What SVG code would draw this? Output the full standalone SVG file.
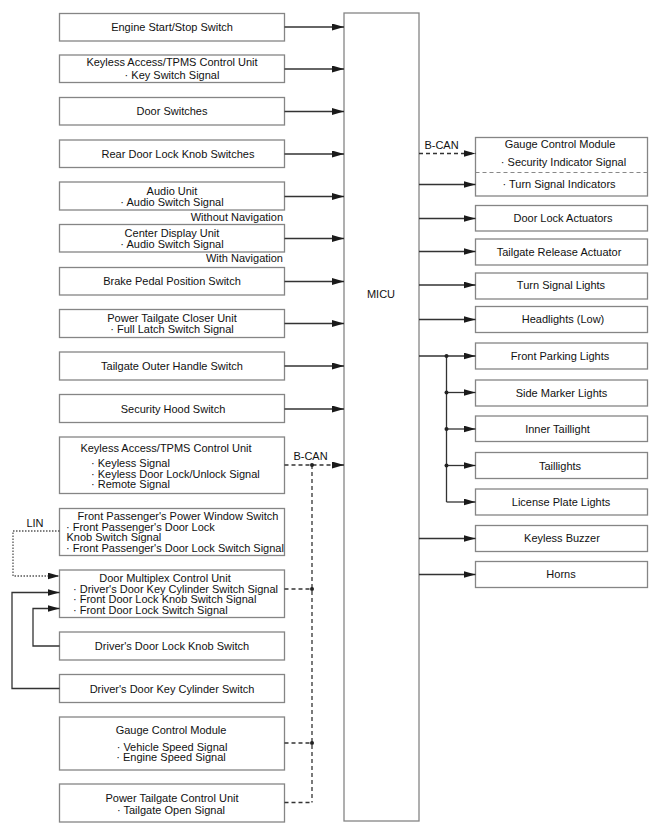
<svg xmlns="http://www.w3.org/2000/svg" width="658" height="833" viewBox="0 0 658 833">
<style>
.box{fill:#fff;stroke:#858585;stroke-width:1.3}
.t{font-family:"Liberation Sans",Arial,sans-serif;font-size:11px;fill:#111}
.c{text-anchor:middle}
.r{text-anchor:end}
.ln{fill:none;stroke:#333;stroke-width:1.3}
.ds{fill:none;stroke:#333;stroke-width:1.3;stroke-dasharray:4,3}
.dt{fill:none;stroke:#555;stroke-width:1.3;stroke-dasharray:1.5,1.5}
.dv{fill:none;stroke:#888;stroke-width:1.2;stroke-dasharray:4,3}
.dot{fill:#222}
</style>
<defs>
<marker id="ah" markerUnits="userSpaceOnUse" markerWidth="12" markerHeight="8" refX="12" refY="3.5" orient="auto">
<path d="M0,0 L12,3.5 L0,7 z" fill="#1a1a1a"/>
</marker>
</defs>

<g id="micu"><rect class="box" x="344" y="13" width="75" height="808"/><text class="t c" x="381" y="298">MICU</text></g>

<g id="n1"><rect class="box" x="59.5" y="13.5" width="225" height="27.5"/><text class="t c" x="172" y="31">Engine Start/Stop Switch</text></g>
<g id="n2"><rect class="box" x="59.5" y="55" width="225" height="27.5"/><text class="t c" x="172" y="66">Keyless Access/TPMS Control Unit</text><text class="t c" x="172" y="79">· Key Switch Signal</text></g>
<g id="n3"><rect class="box" x="59.5" y="97.5" width="225" height="27.5"/><text class="t c" x="172" y="115">Door Switches</text></g>
<g id="n4"><rect class="box" x="59.5" y="140" width="225" height="27.5"/><text class="t c" x="178" y="158">Rear Door Lock Knob Switches</text></g>
<g id="n5"><rect class="box" x="59.5" y="182" width="225" height="28"/><text class="t c" x="172" y="195">Audio Unit</text><text class="t c" x="172" y="206">· Audio Switch Signal</text><text class="t r" x="283" y="220.5">Without Navigation</text></g>
<g id="n6"><rect class="box" x="59.5" y="224.5" width="225" height="27.5"/><text class="t c" x="172" y="237">Center Display Unit</text><text class="t c" x="172" y="248">· Audio Switch Signal</text><text class="t r" x="283" y="262">With Navigation</text></g>
<g id="n7"><rect class="box" x="59.5" y="267.5" width="225" height="27.5"/><text class="t c" x="172" y="285">Brake Pedal Position Switch</text></g>
<g id="n8"><rect class="box" x="59.5" y="309.5" width="225" height="28"/><text class="t c" x="172" y="322">Power Tailgate Closer Unit</text><text class="t c" x="172" y="333">· Full Latch Switch Signal</text></g>
<g id="n9"><rect class="box" x="59.5" y="352" width="225" height="28"/><text class="t c" x="172" y="370">Tailgate Outer Handle Switch</text></g>
<g id="n10"><rect class="box" x="59.5" y="394.5" width="225" height="28"/><text class="t c" x="173" y="412.5">Security Hood Switch</text></g>
<g id="n11"><rect class="box" x="59.5" y="437" width="225" height="56.5"/><text class="t c" x="166" y="452">Keyless Access/TPMS Control Unit</text><text class="t" x="91" y="467">· Keyless Signal</text><text class="t" x="91" y="478">· Keyless Door Lock/Unlock Signal</text><text class="t" x="91" y="488">· Remote Signal</text></g>
<g id="n12"><rect class="box" x="59.5" y="508.5" width="225" height="47"/><text class="t c" x="178" y="520">Front Passenger's Power Window Switch</text><text class="t" x="66" y="531">· Front Passenger's Door Lock</text><text class="t" x="66.5" y="541">Knob Switch Signal</text><text class="t" x="66" y="552">· Front Passenger's Door Lock Switch Signal</text></g>
<g id="n13"><rect class="box" x="59.5" y="570" width="225" height="47.5"/><text class="t c" x="165" y="581.5">Door Multiplex Control Unit</text><text class="t" x="73" y="593">· Driver's Door Key Cylinder Switch Signal</text><text class="t" x="73" y="603">· Front Door Lock Knob Switch Signal</text><text class="t" x="73" y="614">· Front Door Lock Switch Signal</text></g>
<g id="n14"><rect class="box" x="59.5" y="632" width="225" height="28"/><text class="t c" x="172" y="650">Driver's Door Lock Knob Switch</text></g>
<g id="n15"><rect class="box" x="59.5" y="674.5" width="225" height="28"/><text class="t c" x="172" y="692.5">Driver's Door Key Cylinder Switch</text></g>
<g id="n16"><rect class="box" x="59.5" y="717" width="225" height="53"/><text class="t c" x="171" y="734">Gauge Control Module</text><text class="t c" x="172" y="751">· Vehicle Speed Signal</text><text class="t c" x="171" y="761">· Engine Speed Signal</text></g>
<g id="n17"><rect class="box" x="59.5" y="784" width="225" height="38"/><text class="t c" x="172" y="802">Power Tailgate Control Unit</text><text class="t c" x="171" y="814">· Tailgate Open Signal</text></g>

<g id="r1"><rect class="box" x="475.5" y="137.5" width="172" height="58.5"/><line class="dv" x1="475.5" y1="172.5" x2="647.5" y2="172.5"/><text class="t c" x="560" y="148">Gauge Control Module</text><text class="t c" x="563.5" y="165.5">· Security Indicator Signal</text><text class="t c" x="559" y="188">· Turn Signal Indicators</text></g>
<g id="r2"><rect class="box" x="475.5" y="205.5" width="172" height="25.5"/><text class="t c" x="563" y="222">Door Lock Actuators</text></g>
<g id="r3"><rect class="box" x="475.5" y="239" width="172" height="26"/><text class="t c" x="559" y="255.5">Tailgate Release Actuator</text></g>
<g id="r4"><rect class="box" x="475.5" y="273" width="172" height="26"/><text class="t c" x="561" y="289">Turn Signal Lights</text></g>
<g id="r5"><rect class="box" x="475.5" y="306.5" width="172" height="26"/><text class="t c" x="563" y="323">Headlights (Low)</text></g>
<g id="r6"><rect class="box" x="475.5" y="343" width="172" height="26"/><text class="t c" x="560" y="360">Front Parking Lights</text></g>
<g id="r7"><rect class="box" x="475.5" y="380" width="172" height="26"/><text class="t c" x="561.5" y="396.5">Side Marker Lights</text></g>
<g id="r8"><rect class="box" x="475.5" y="416" width="172" height="25.5"/><text class="t c" x="557.5" y="432.5">Inner Taillight</text></g>
<g id="r9"><rect class="box" x="475.5" y="452.5" width="172" height="26"/><text class="t c" x="560" y="469.5">Taillights</text></g>
<g id="r10"><rect class="box" x="475.5" y="489" width="172" height="26"/><text class="t c" x="561" y="505.5">License Plate Lights</text></g>
<g id="r11"><rect class="box" x="475.5" y="525.5" width="172" height="26"/><text class="t c" x="562" y="542">Keyless Buzzer</text></g>
<g id="r12"><rect class="box" x="475.5" y="561.5" width="172" height="26"/><text class="t c" x="561" y="578">Horns</text></g>

<g id="connectors">
<path class="ln" marker-end="url(#ah)" d="M284.5,27 H344"/>
<path class="ln" marker-end="url(#ah)" d="M284.5,69 H344"/>
<path class="ln" marker-end="url(#ah)" d="M284.5,111.5 H344"/>
<path class="ln" marker-end="url(#ah)" d="M284.5,154 H344"/>
<path class="ln" marker-end="url(#ah)" d="M284.5,196.5 H344"/>
<path class="ln" marker-end="url(#ah)" d="M284.5,238.5 H344"/>
<path class="ln" marker-end="url(#ah)" d="M284.5,281.5 H344"/>
<path class="ln" marker-end="url(#ah)" d="M284.5,323.5 H344"/>
<path class="ln" marker-end="url(#ah)" d="M284.5,366 H344"/>
<path class="ln" marker-end="url(#ah)" d="M284.5,409 H344"/>
<path class="ds" marker-end="url(#ah)" d="M284.5,465 H344"/>
<path class="ds" d="M312,465 V802.5"/>
<path class="ds" d="M284.5,589 H312"/>
<path class="ds" d="M284.5,743 H312"/>
<path class="ds" d="M284.5,802.5 H312"/>
<circle class="dot" cx="312" cy="465" r="2"/>
<circle class="dot" cx="312" cy="589" r="2"/>
<circle class="dot" cx="312" cy="743" r="2"/>
<text class="t c" x="310.5" y="460">B-CAN</text>
<path class="dt" marker-end="url(#ah)" d="M59.5,531 H13 V576 H59.5"/>
<text class="t c" x="35" y="527">LIN</text>
<path class="ln" marker-end="url(#ah)" d="M59.5,646 H33 V608.5 H59.5"/>
<path class="ln" marker-end="url(#ah)" d="M59.5,688.5 H12 V592.5 H59.5"/>

<path class="ds" marker-end="url(#ah)" d="M419,153.5 H475.5"/>
<text class="t c" x="441.5" y="149">B-CAN</text>
<path class="ln" marker-end="url(#ah)" d="M419,184.5 H475.5"/>
<path class="ln" marker-end="url(#ah)" d="M419,218.5 H475.5"/>
<path class="ln" marker-end="url(#ah)" d="M419,251.5 H475.5"/>
<path class="ln" marker-end="url(#ah)" d="M419,285 H475.5"/>
<path class="ln" marker-end="url(#ah)" d="M419,319.5 H475.5"/>
<path class="ln" marker-end="url(#ah)" d="M419,356 H475.5"/>
<path class="ln" d="M446.5,356 V502"/>
<path class="ln" marker-end="url(#ah)" d="M446.5,392.5 H475.5"/>
<path class="ln" marker-end="url(#ah)" d="M446.5,429 H475.5"/>
<path class="ln" marker-end="url(#ah)" d="M446.5,465.5 H475.5"/>
<path class="ln" marker-end="url(#ah)" d="M446.5,502 H475.5"/>
<circle class="dot" cx="446.5" cy="356" r="2"/>
<circle class="dot" cx="446.5" cy="392.5" r="2"/>
<circle class="dot" cx="446.5" cy="429" r="2"/>
<circle class="dot" cx="446.5" cy="465.5" r="2"/>
<path class="ln" marker-end="url(#ah)" d="M419,538.5 H475.5"/>
<path class="ln" marker-end="url(#ah)" d="M419,574.5 H475.5"/>
</g>
</svg>
